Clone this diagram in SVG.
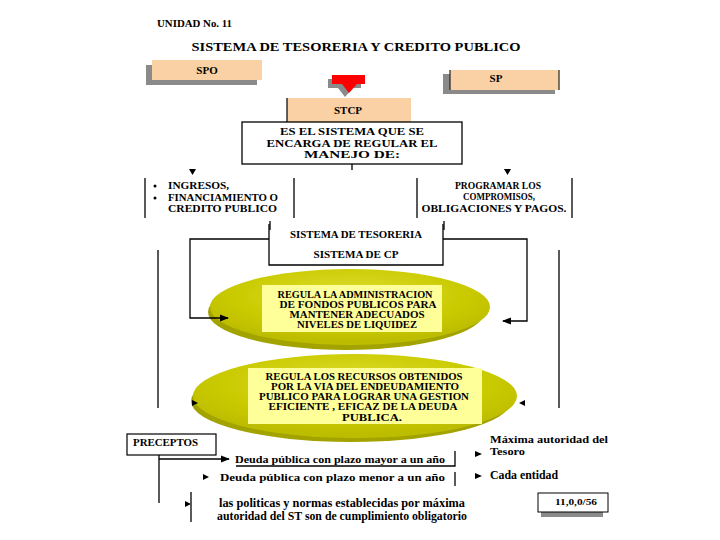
<svg xmlns="http://www.w3.org/2000/svg" width="720" height="540" viewBox="0 0 720 540">
<style>
  text { font-family: "Liberation Serif", "Times New Roman", serif; font-weight: bold; fill: #000; }
  .mid { text-anchor: middle; }
  .ln { stroke: #000; stroke-width: 1.3; fill: none; }
  .peach { fill: #fad1a5; }
  .shadow { fill: #8a8a8a; }
  .inner { fill: #ffff99; }
  .ah { fill: #000; }
</style>
<defs>
  <radialGradient id="yel" cx="0.5" cy="0.35" r="0.6">
    <stop offset="0" stop-color="#dede34"/>
    <stop offset="0.7" stop-color="#caca00"/>
    <stop offset="1" stop-color="#bdbd00"/>
  </radialGradient>
  <marker id="arr" viewBox="0 0 10 10" refX="9" refY="5" markerWidth="7" markerHeight="7" orient="auto">
    <path d="M0,1 L10,5 L0,9 z" fill="#000"/>
  </marker>
</defs>
<rect width="720" height="540" fill="#fff"/>

<g id="header">
  <text x="157" y="27" font-size="10" textLength="75" lengthAdjust="spacingAndGlyphs">UNIDAD No. 11</text>
  <text x="356" y="51" font-size="13.5" class="mid" textLength="329" lengthAdjust="spacingAndGlyphs">SISTEMA DE TESORERIA Y CREDITO PUBLICO</text>
</g>

<g id="spo">
  <rect class="shadow" x="146" y="65" width="111" height="20"/>
  <rect class="peach" x="152" y="60" width="110" height="20"/>
  <text x="207" y="74" font-size="11" class="mid">SPO</text>
</g>

<g id="sp">
  <rect class="shadow" x="443" y="74" width="112" height="20"/>
  <rect class="peach" x="450" y="70" width="109" height="20"/>
  <line x1="450" y1="70" x2="450" y2="90" stroke="#222" stroke-width="1.2"/>
  <line x1="559" y1="70" x2="559" y2="90" stroke="#222" stroke-width="1.2"/>
  <text x="496" y="82" font-size="11" class="mid">SP</text>
</g>

<g id="red-arrow">
  <path d="M328,79 L361,79 L361,88 L353,88 L345,97 L338,88 L328,88 z" fill="#8a8a8a"/>
  <path d="M332,75 L365,75 L365,84 L357,84 L349,93 L342,84 L332,84 z" fill="#ff0000"/>
</g>

<g id="stcp">
  <rect class="peach" x="287" y="98" width="124" height="24"/>
  <line x1="287" y1="98" x2="287" y2="122" stroke="#000" stroke-width="1.2"/>
  <text x="348" y="114" font-size="11" class="mid">STCP</text>
</g>

<g id="es-el-sistema">
  <rect x="242" y="122" width="220" height="42" fill="#fff" stroke="#000" stroke-width="1.3"/>
  <text x="352" y="135" font-size="10.5" class="mid" textLength="144" lengthAdjust="spacingAndGlyphs">ES EL SISTEMA QUE SE</text>
  <text x="352" y="147" font-size="10.5" class="mid" textLength="171" lengthAdjust="spacingAndGlyphs">ENCARGA DE REGULAR EL</text>
  <text x="352" y="158" font-size="10.5" class="mid" textLength="96" lengthAdjust="spacingAndGlyphs">MANEJO DE:</text>
</g>

<g id="ingresos">
  <circle cx="155" cy="186" r="1.5" fill="#000"/>
  <circle cx="155" cy="198" r="1.5" fill="#000"/>
  <text x="168" y="189" font-size="10.5" textLength="61" lengthAdjust="spacingAndGlyphs">INGRESOS,</text>
  <text x="168" y="201" font-size="10.5" textLength="110" lengthAdjust="spacingAndGlyphs">FINANCIAMIENTO O</text>
  <text x="168" y="212" font-size="10.5" textLength="109" lengthAdjust="spacingAndGlyphs">CREDITO PUBLICO</text>
</g>

<g id="programar">
  <text x="498" y="189" font-size="10.5" class="mid" textLength="86" lengthAdjust="spacingAndGlyphs">PROGRAMAR LOS</text>
  <text x="499" y="200" font-size="10.5" class="mid" textLength="72" lengthAdjust="spacingAndGlyphs">COMPROMISOS,</text>
  <text x="494" y="212" font-size="10.5" class="mid" textLength="145" lengthAdjust="spacingAndGlyphs">OBLIGACIONES Y PAGOS.</text>
</g>

<g id="sistemas">
  <path d="M269,224 L269,265 L443,265 L443,224" class="ln"/>
  <text x="356" y="238" font-size="10" class="mid" textLength="132" lengthAdjust="spacingAndGlyphs">SISTEMA DE TESORERIA</text>
  <text x="356" y="258" font-size="10" class="mid" textLength="85" lengthAdjust="spacingAndGlyphs">SISTEMA DE CP</text>
</g>

<g id="liquidez">
  <ellipse cx="346" cy="312" rx="138" ry="38" fill="#a3a300"/>
  <ellipse cx="350" cy="307" rx="140" ry="38" fill="url(#yel)"/>
  <rect class="inner" x="262" y="285" width="180" height="47"/>
  <text x="355" y="298" font-size="10" class="mid" textLength="155" lengthAdjust="spacingAndGlyphs">REGULA LA ADMINISTRACION</text>
  <text x="358" y="308" font-size="10" class="mid" textLength="157" lengthAdjust="spacingAndGlyphs">DE FONDOS PUBLICOS PARA</text>
  <text x="357" y="318" font-size="10" class="mid" textLength="135" lengthAdjust="spacingAndGlyphs">MANTENER ADECUADOS</text>
  <text x="357" y="328" font-size="10" class="mid" textLength="120" lengthAdjust="spacingAndGlyphs">NIVELES DE LIQUIDEZ</text>
</g>

<g id="deuda">
  <ellipse cx="351" cy="401" rx="160" ry="41" fill="#a3a300"/>
  <ellipse cx="355" cy="396" rx="162" ry="42" fill="url(#yel)"/>
  <rect class="inner" x="248" y="368" width="234" height="56"/>
  <text x="364" y="380" font-size="10" class="mid" textLength="197" lengthAdjust="spacingAndGlyphs">REGULA LOS RECURSOS OBTENIDOS</text>
  <text x="365" y="390" font-size="10" class="mid" textLength="188" lengthAdjust="spacingAndGlyphs">POR LA VIA DEL ENDEUDAMIENTO</text>
  <text x="364" y="400" font-size="10" class="mid" textLength="210" lengthAdjust="spacingAndGlyphs">PUBLICO PARA LOGRAR UNA GESTION</text>
  <text x="363" y="410" font-size="10" class="mid" textLength="189" lengthAdjust="spacingAndGlyphs">EFICIENTE , EFICAZ  DE LA DEUDA</text>
  <text x="372" y="421" font-size="10" class="mid" textLength="60" lengthAdjust="spacingAndGlyphs">PUBLICA.</text>
</g>

<g id="preceptos">
  <rect x="127" y="434" width="89" height="21" fill="#fff" stroke="#000" stroke-width="1.2"/>
  <text x="133" y="446" font-size="10" textLength="65" lengthAdjust="spacingAndGlyphs">PRECEPTOS</text>
</g>

<g id="plazos">
  <text x="235" y="463" font-size="10" textLength="210" lengthAdjust="spacingAndGlyphs">Deuda pública con plazo mayor a un año</text>
  <text x="220" y="481" font-size="10" textLength="225" lengthAdjust="spacingAndGlyphs">Deuda pública con plazo menor a un año</text>
</g>

<g id="autoridades">
  <text x="490" y="443" font-size="11" textLength="118" lengthAdjust="spacingAndGlyphs">Máxima autoridad del</text>
  <text x="490" y="455" font-size="11" textLength="35" lengthAdjust="spacingAndGlyphs">Tesoro</text>
  <text x="490" y="479" font-size="12" textLength="68" lengthAdjust="spacingAndGlyphs">Cada entidad</text>
</g>

<g id="politicas">
  <text x="342" y="507" font-size="11.5" class="mid" textLength="246" lengthAdjust="spacingAndGlyphs">las politicas y normas establecidas por máxima</text>
  <text x="342" y="520" font-size="11.5" class="mid" textLength="250" lengthAdjust="spacingAndGlyphs">autoridad del ST son de cumplimiento obligatorio</text>
</g>

<g id="codigo">
  <rect class="shadow" x="541" y="497" width="62" height="20"/>
  <rect x="538" y="493" width="70" height="19" fill="#fff" stroke="#000" stroke-width="1"/>
  <text x="576" y="505" font-size="8.5" class="mid" textLength="42" lengthAdjust="spacingAndGlyphs">11,0,0/56</text>
</g>

<g id="connectors">
  <line class="ln" x1="352" y1="164" x2="352" y2="170"/>
  <path class="ah" d="M189,169 L196,169 L192.5,175 z"/>
  <path class="ah" d="M504,169 L511,169 L507.5,175 z"/>
  <line class="ln" x1="145" y1="178" x2="145" y2="218"/>
  <line class="ln" x1="294" y1="178" x2="294" y2="218"/>
  <line class="ln" x1="417" y1="178" x2="417" y2="218"/>
  <line class="ln" x1="572" y1="178" x2="572" y2="218"/>
  <line class="ln" x1="270" y1="221" x2="270" y2="230"/>
  <line class="ln" x1="444" y1="221" x2="444" y2="230"/>
  <path class="ln" d="M269,239 L190,239 L190,318 L228,318" marker-end="url(#arr)"/>
  <path class="ln" d="M443,239 L527,239 L527,321 L503,321" marker-end="url(#arr)"/>
  <line class="ln" x1="158" y1="250" x2="158" y2="408"/>
  <line class="ln" x1="559" y1="250" x2="559" y2="408"/>
  <path class="ah" d="M192,400 L198,403 L192,406 z"/>
  <path class="ah" d="M525,400 L519,403 L525,406 z"/>
  <path class="ln" d="M159,455 L159,503"/>
  <path class="ln" d="M159,459 L229,459" marker-end="url(#arr)"/>
  <path class="ah" d="M203,474 L209,477 L203,480 z"/>
  <path class="ah" d="M185,501 L191,504 L185,507 z"/>
  <line class="ln" x1="191" y1="492" x2="191" y2="522"/>
  <path class="ln" d="M236,466 L455,466 L455,451"/>
  <line class="ln" x1="455" y1="472" x2="455" y2="486"/>
  <path class="ah" d="M475,451 L482,454 L475,457 z"/>
  <path class="ah" d="M475,473 L482,476 L475,479 z"/>
</g>
</svg>
